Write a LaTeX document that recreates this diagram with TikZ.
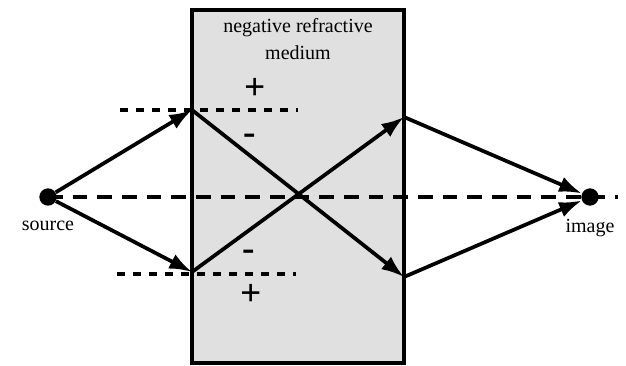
\documentclass[tikz,border=0pt]{standalone}
\usepackage{fontspec}
\setmainfont{Liberation Serif}
\usetikzlibrary{arrows.meta,positioning}
\tikzset{
 medium/.style={draw,line width=3.4pt,fill=black!12,inner sep=0pt,outer sep=0pt,
                minimum width=159pt,minimum height=264.75pt},
 ray/.style={-{Latex[length=17pt,width=12pt]},line width=2.8pt},
 axis/.style={dash pattern=on 11pt off 7.5pt,line width=2.6pt},
 level/.style={dash pattern=on 6pt off 6pt,line width=2.4pt},
 dot/.style={circle,fill=black,inner sep=0pt,minimum size=13pt},
 sign/.style={font=\fontsize{28}{28}\selectfont\bfseries,inner sep=0pt},
 lbl/.style={font=\fontsize{15}{20}\selectfont,align=center,inner sep=0pt},
}

\begin{document}
\begin{tikzpicture}[x=0.75pt,y=-0.75pt]
\useasboundingbox (0,0) rectangle (626,366);
\node[medium] (nrm) at (298,186.5) {};
\node[lbl] (title) at (298,39) {negative refractive\\medium};

\node[dot] (src) at (48,197) {};
\node[dot] (img) at (590,197) {};
\node[lbl,below=11pt of src] (srclbl) {source};
\node[lbl,below=10pt of img] (imglbl) {image};

\coordinate (ul) at (192,110);
\coordinate (ll) at (192,272);
\coordinate (ur) at (404,117);
\coordinate (lr) at (404,277);
\coordinate (axisend) at (618,197);

% levels either side of the face
\coordinate (ua) at (120,110);
\coordinate (ub) at (298,110);
\coordinate (la) at (117,274);
\coordinate (lb) at (296,274);
\draw[level] (ua) -- (ub);
\draw[level] (la) -- (lb);

\node[sign] (up) at (255,89) {+};
\node[sign] (um) at (250,139) {-};
\node[sign] (lm) at (249,255) {-};
\node[sign] (lp) at (251,295) {+};

\draw[axis] (src.center) -- (axisend);

\draw[ray] (src) -- (ul);
\draw[ray] (src) -- (ll);
\draw[ray] (ul) -- (lr);
\draw[ray] (ll) -- (ur);
\draw[ray] (ur) -- (img);
\draw[ray] (lr) -- (img);
\end{tikzpicture}
\end{document}
